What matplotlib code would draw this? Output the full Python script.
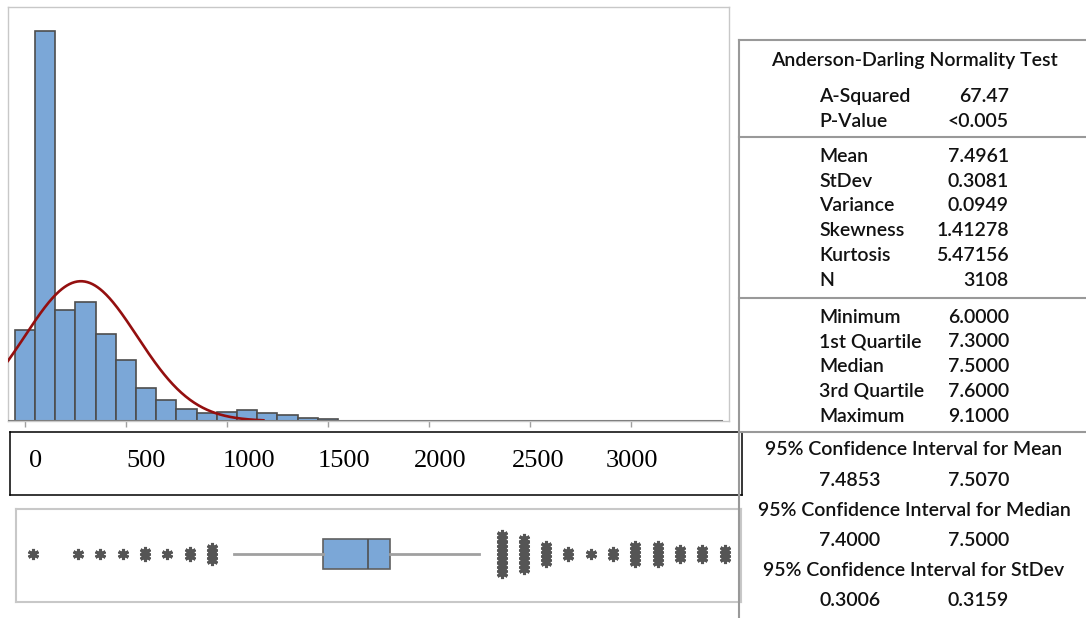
import numpy as np
from matplotlib import pyplot as plt
from matplotlib.lines import Line2D

# histogram (bin centres, counts per bin)
bin_centers = [0, 100, 200, 300, 400, 500, 600, 700, 800, 900, 1000, 1100, 1200, 1300, 1400, 1500]
bin_counts = [291, 1246, 354, 380, 279, 196, 105, 68, 39, 26, 29, 35, 26, 19, 11, 7]
bin_width = 100
fit_mean = 277
fit_sd = 278
n_obs = 3108
curve_end = 1180
axis_ticks = [0, 500, 1000, 1500, 2000, 2500, 3000]
axis_labels = ["0", "500", "1000", "1500", "2000", "2500", "3000"]

# box plot summary
box_q1, box_med, box_q3 = 7.3, 7.5, 7.6
whisker_lo, whisker_hi = 6.9, 8.0
outlier_values = [6.0, 6.2, 6.3, 6.4, 6.5, 6.6, 6.7, 6.8,
                  8.1, 8.2, 8.3, 8.4, 8.5, 8.6, 8.7, 8.8, 8.9, 9.0, 9.1]
outlier_stack = [1, 1, 1, 1, 2, 1, 2, 4,
                 10, 8, 5, 2, 1, 2, 5, 5, 3, 3, 3]

# summary table
ad_title = "Anderson-Darling Normality Test"
ad_labels = ["A-Squared", "P-Value"]
ad_values = ["67.47", "<0.005"]
moment_labels = ["Mean", "StDev", "Variance", "Skewness", "Kurtosis", "N"]
moment_values = ["7.4961", "0.3081", "0.0949", "1.41278", "5.47156", "3108"]
quant_labels = ["Minimum", "1st Quartile", "Median", "3rd Quartile", "Maximum"]
quant_values = ["6.0000", "7.3000", "7.5000", "7.6000", "9.1000"]
ci_titles = ["95% Confidence Interval for Mean",
             "95% Confidence Interval for Median",
             "95% Confidence Interval for StDev"]
ci_low = ["7.4853", "7.4000", "0.3006"]
ci_high = ["7.5070", "7.5000", "0.3159"]

W, H = 1086, 618


def fx(px):
    return px / W


def fy(py):
    return 1 - py / H


def rect(x0, y0, x1, y1):
    return [fx(x0), fy(y1), (x1 - x0) / W, (y1 - y0) / H]


fig = plt.figure(figsize=(W / 100, H / 100), dpi=100)

bar_color = '#7BA7D7'
edge_color = '#4d4d4d'

# ---- histogram
ax = fig.add_axes(rect(8, 7, 729, 421))
ax.bar(bin_centers, bin_counts, width=bin_width, color=bar_color,
       edgecolor=edge_color, linewidth=1.2, zorder=2)
xmin, xmax = -84, 3485
xs = np.linspace(xmin, curve_end, 300)
ys = n_obs * bin_width * np.exp(-0.5 * ((xs - fit_mean) / fit_sd) ** 2) / (fit_sd * np.sqrt(2 * np.pi))
ax.plot(xs, ys, color='#940f0f', lw=1.9, zorder=3)
ax.set_xlim(xmin, xmax)
ax.set_ylim(0, 1321)
ax.axhline(0, xmin=0, xmax=0.99, color='#808080', lw=1.5, zorder=4)
ax.set_xticks(axis_ticks)
ax.set_xticklabels([])
ax.set_yticks([])
ax.tick_params(axis='x', direction='out', length=4, width=1, color='#a0a0a0')
for s in ax.spines.values():
    s.set_color('#c8c8c8')
    s.set_linewidth(1)

# ---- tick label box
lab = fig.add_axes(rect(10, 432, 742, 495))
lab.set_xticks([])
lab.set_yticks([])
for s in lab.spines.values():
    s.set_color('black')
    s.set_linewidth(1.1)
label_px = [36, 146, 249, 344, 440, 538, 632]
for px, t in zip(label_px, axis_labels):
    fig.text(fx(px), fy(461), t, ha='center', va='center',
             family='Liberation Serif', fontsize=19)

# ---- box plot
bx = fig.add_axes(rect(16, 509, 741, 602))
stats = [dict(med=box_med, q1=box_q1, q3=box_q3, whislo=whisker_lo,
              whishi=whisker_hi, fliers=[])]
bx.bxp(stats, positions=[0], widths=0.65, orientation='horizontal',
       showcaps=False, patch_artist=True,
       boxprops=dict(facecolor=bar_color, edgecolor='#606060', linewidth=1.2),
       medianprops=dict(color='#505050', linewidth=1.2),
       whiskerprops=dict(color='#a0a0a0', linewidth=2))
step = 0.09
for v, n in zip(outlier_values, outlier_stack):
    offs = (np.arange(n) - (n - 1) / 2) * step
    bx.plot([v] * n, offs, linestyle='none', marker=(6, 2, 0),
            markersize=8, markeredgewidth=2.2, color='#555555')
bx.set_xlim(5.9215, 9.174)
bx.set_ylim(-1.03, 0.97)
bx.set_xticks([])
bx.set_yticks([])
for s in bx.spines.values():
    s.set_color('#c8c8c8')
    s.set_linewidth(1.5)

# ---- summary table
line_color = '#999999'
for y in [39.5, 137.3, 298, 431.7]:
    fig.add_artist(Line2D([fx(739), 1], [fy(y), fy(y)], color=line_color, lw=1.5))
fig.add_artist(Line2D([fx(739), fx(739)], [fy(39.5), 0], color=line_color, lw=1.5))

tkw = dict(family=['Lato', 'Noto Sans'], fontsize=14, weight='semibold',
           color='#111111', va='baseline')
lab_x, val_x, mid_x = 819, 1009, 914
fig.text(fx(mid_x), fy(66), ad_title, ha='center', **tkw)
for i, (l, v) in enumerate(zip(ad_labels, ad_values)):
    y = 101.7 + 25 * i
    fig.text(fx(lab_x), fy(y), l, ha='left', **tkw)
    fig.text(fx(val_x), fy(y), v, ha='right', **tkw)
for i, (l, v) in enumerate(zip(moment_labels, moment_values)):
    y = 162 + 24.7 * i
    fig.text(fx(lab_x), fy(y), l, ha='left', **tkw)
    fig.text(fx(val_x), fy(y), v, ha='right', **tkw)
for i, (l, v) in enumerate(zip(quant_labels, quant_values)):
    y = 322.7 + 24.7 * i
    fig.text(fx(lab_x), fy(y), l, ha='left', **tkw)
    fig.text(fx(val_x), fy(y), v, ha='right', **tkw)
for i, (t, lo, hi) in enumerate(zip(ci_titles, ci_low, ci_high)):
    y = 455 + 60.5 * i
    fig.text(fx(mid_x), fy(y), t, ha='center', **tkw)
    fig.text(fx(lab_x), fy(y + 30.5), lo, ha='left', **tkw)
    fig.text(fx(val_x), fy(y + 30.5), hi, ha='right', **tkw)

fig.savefig('out.png', dpi=100)
